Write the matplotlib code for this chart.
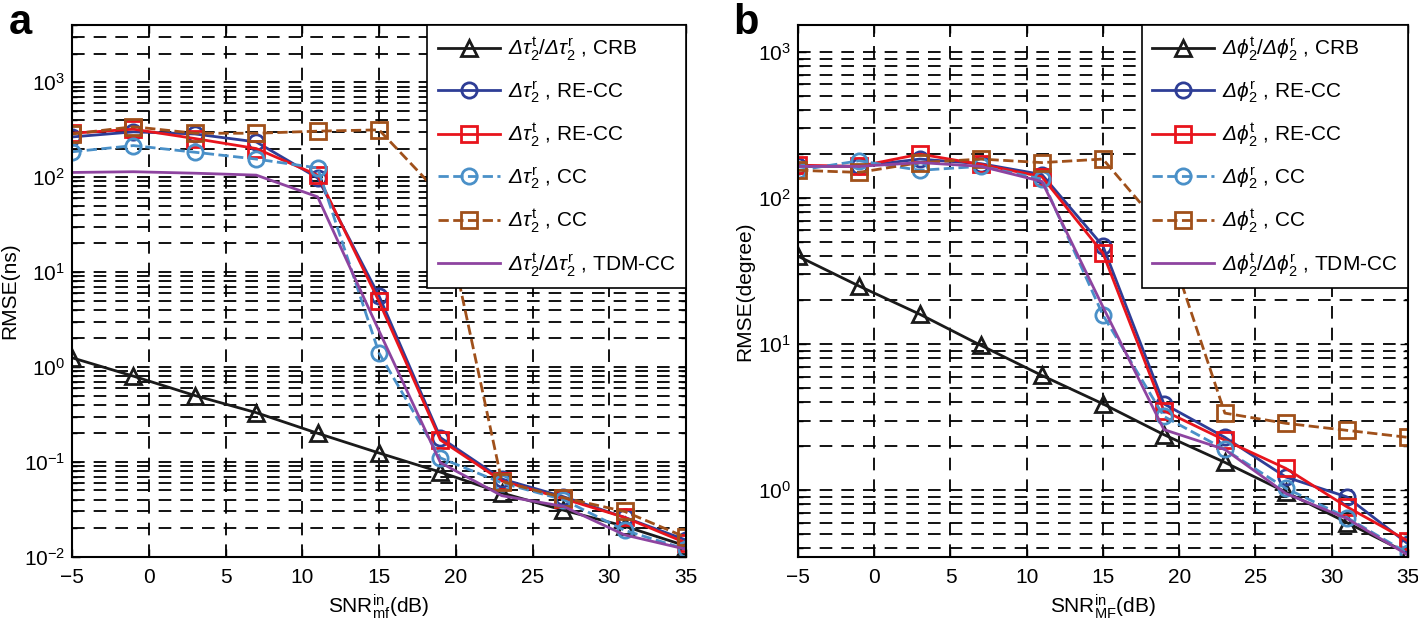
import matplotlib.pyplot as plt
import numpy as np
from matplotlib.ticker import LogLocator, NullFormatter, MultipleLocator

plt.rcParams['font.family'] = ['Liberation Sans', 'DejaVu Sans']
plt.rcParams['mathtext.fontset'] = 'custom'
plt.rcParams['mathtext.rm'] = 'Liberation Sans'
plt.rcParams['mathtext.it'] = 'Liberation Sans:italic'
plt.rcParams['mathtext.sf'] = 'Liberation Sans:italic'  # used for the slanted Delta
plt.rcParams['mathtext.bf'] = 'Liberation Sans:bold'

snr = [-5, -1, 3, 7, 11, 15, 19, 23, 27, 31, 35]

# panel a: delay RMSE (ns)
a_crb = [1.25, 0.8, 0.5, 0.33, 0.2, 0.124, 0.078, 0.047, 0.031, 0.021, 0.013]
a_r_recc = [265, 300, 285, 235, 98, 5.6, 0.18, 0.066, 0.043, 0.026, 0.015]
a_t_recc = [290, 320, 255, 200, 105, 4.9, 0.17, 0.063, 0.041, 0.026, 0.014]
a_r_cc = [185, 215, 183, 155, 125, 1.4, 0.11, 0.06, 0.04, 0.019, 0.012]
a_t_cc = [285, 340, 290, 290, 305, 315, 65, 0.062, 0.042, 0.030, 0.016]
a_tdm = [112, 114, 110, 105, 62, 2.4, 0.098, 0.044, 0.034, 0.017, 0.012]

# panel b: angle RMSE (degree)
b_crb = [40, 25, 16, 9.8, 6.1, 3.9, 2.4, 1.55, 0.97, 0.6, 0.37]
b_r_recc = [165, 165, 185, 172, 145, 47, 3.9, 2.3, 1.23, 0.9, 0.43]
b_t_recc = [168, 165, 200, 170, 140, 42, 3.5, 2.2, 1.41, 0.77, 0.45]
b_r_cc = [155, 180, 155, 165, 135, 15.8, 3.2, 1.9, 1.03, 0.65, 0.37]
b_t_cc = [155, 150, 175, 185, 175, 185, 60, 3.37, 2.87, 2.57, 2.3]
b_tdm = [165, 165, 175, 165, 130, 18, 2.6, 1.9, 0.95, 0.64, 0.36]

sym_a = r'\tau'
sym_b = r'\phi'

C_CRB = '#1a1a1a'
C_RRE = '#2e3d96'
C_TRE = '#e8141c'
C_RCC = '#4a90c8'
C_TCC = '#a0501a'
C_TDM = '#8e44a0'


def labels(s):
    d = r'\mathsf{\Delta}' + s
    return [
        r'$%s_2^{\rm t}/%s_2^{\rm r}$ , CRB' % (d, d),
        r'$%s_2^{\rm r}$ , RE-CC' % d,
        r'$%s_2^{\rm t}$ , RE-CC' % d,
        r'$%s_2^{\rm r}$ , CC' % d,
        r'$%s_2^{\rm t}$ , CC' % d,
        r'$%s_2^{\rm t}/%s_2^{\rm r}$ , TDM-CC' % (d, d),
    ]


def panel(ax, series, s, ylim, ylabel, xlabel):
    lab = labels(s)
    mk = dict(markersize=11, markerfacecolor='none', markeredgewidth=2)
    crb, rre, tre, rcc, tcc, tdm = series
    ax.plot(snr, crb, '-', color=C_CRB, lw=2, marker='^', label=lab[0], **mk)
    ax.plot(snr, rre, '-', color=C_RRE, lw=2, marker='o', label=lab[1], **mk)
    ax.plot(snr, tre, '-', color=C_TRE, lw=2, marker='s', label=lab[2], **mk)
    ax.plot(snr, rcc, '--', color=C_RCC, lw=2, marker='o', label=lab[3], **mk)
    ax.plot(snr, tcc, '--', color=C_TCC, lw=2, marker='s', label=lab[4], **mk)
    ax.plot(snr, tdm, '-', color=C_TDM, lw=2, label=lab[5])

    ax.set_yscale('log')
    ax.set_xlim(-5, 35)
    ax.set_ylim(*ylim)
    ax.xaxis.set_major_locator(MultipleLocator(5))
    ax.yaxis.set_major_locator(LogLocator(base=10, numticks=20))
    ax.yaxis.set_minor_locator(LogLocator(base=10, subs=np.arange(2, 10), numticks=20))
    ax.yaxis.set_minor_formatter(NullFormatter())
    ax.tick_params(which='both', direction='in', top=True, right=True, labelsize=15)
    ax.tick_params(axis='x', pad=8)
    ax.tick_params(axis='y', pad=5)
    ax.tick_params(which='major', length=6, width=1)
    ax.tick_params(which='minor', length=3.5, width=1)
    ax.grid(True, which='major', axis='both', color='k', ls=(0, (7, 5)), lw=1.3)
    ax.grid(True, which='minor', axis='y', color='k', ls=(0, (7, 5)), lw=1.3)
    for sp in ax.spines.values():
        sp.set_linewidth(1.5)
    ax.set_ylabel(ylabel, fontsize=15, labelpad=3)
    ax.set_xlabel(xlabel, fontsize=15)
    leg = ax.legend(loc='upper right', borderaxespad=0, fontsize=15, handlelength=3.0,
                    labelspacing=0.8, fancybox=False, framealpha=1, edgecolor='k',
                    borderpad=0.5, handletextpad=0.35)
    leg.get_frame().set_linewidth(1.2)


fig = plt.figure(figsize=(14.18, 6.27), dpi=100)
ax1 = fig.add_axes([0.0508, 0.112, 0.433, 0.848])
ax2 = fig.add_axes([0.5628, 0.112, 0.430, 0.848])

panel(ax1, [a_crb, a_r_recc, a_t_recc, a_r_cc, a_t_cc, a_tdm], sym_a, (0.01, 4000),
      'RMSE(ns)', r'SNR$_{\rm mf}^{\rm in}$(dB)')
panel(ax2, [b_crb, b_r_recc, b_t_recc, b_r_cc, b_t_cc, b_tdm], sym_b, (0.35, 1530),
      'RMSE(degree)', r'SNR$_{\rm MF}^{\rm in}$(dB)')

fig.text(0.006, 0.995, 'a', fontsize=30, fontweight='bold', va='top', ha='left')
fig.text(0.517, 0.995, 'b', fontsize=30, fontweight='bold', va='top', ha='left')

fig.savefig('out.png', dpi=100)
